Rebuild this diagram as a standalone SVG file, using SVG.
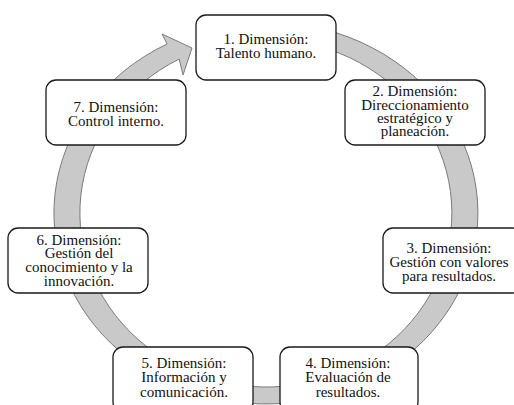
<svg xmlns="http://www.w3.org/2000/svg" width="514" height="405" viewBox="0 0 514 405">
  <style>
    .box { fill: #ffffff; stroke: #1a1a1a; stroke-width: 1.3; }
    .lbl { font-family: "Liberation Serif", "Times New Roman", serif; font-size: 15px; fill: #111111; text-anchor: middle; }
    .ring { fill: #c9c9c9; stroke: #7a7a7a; stroke-width: 1; stroke-linejoin: miter; }
  </style>
  <rect x="0" y="0" width="514" height="405" fill="#ffffff"/>
  <g id="connectors">
    <path class="ring" d="M 247.5 22.7 A 212 191 0 1 1 167.1 44 L 162 34 L 192 48 L 183 75 L 179.2 59.1 A 186 174 0 1 0 249.8 39.7 Z"/>
  </g>
  <g id="node1">
    <rect class="box" x="196" y="15" width="140" height="65" rx="10" ry="10"/>
    <text class="lbl" x="266" y="44">1. Dimensión:</text>
    <text class="lbl" x="266" y="58">Talento humano.</text>
  </g>
  <g id="node2">
    <rect class="box" x="345" y="80" width="140" height="65" rx="10" ry="10"/>
    <text class="lbl" x="415" y="96">2. Dimensión:</text>
    <text class="lbl" x="415" y="109.5">Direccionamiento</text>
    <text class="lbl" x="415" y="123">estratégico  y</text>
    <text class="lbl" x="415" y="136">planeación.</text>
  </g>
  <g id="node3">
    <rect class="box" x="383" y="228" width="140" height="65" rx="10" ry="10"/>
    <text class="lbl" x="449" y="253">3. Dimensión:</text>
    <text class="lbl" x="449" y="267">Gestión con  valores</text>
    <text class="lbl" x="449" y="280.5">para resultados.</text>
  </g>
  <g id="node4">
    <rect class="box" x="280" y="347" width="138" height="65" rx="10" ry="10"/>
    <text class="lbl" x="348" y="367.5">4. Dimensión:</text>
    <text class="lbl" x="348" y="382">Evaluación  de</text>
    <text class="lbl" x="348" y="396.5">resultados.</text>
  </g>
  <g id="node5">
    <rect class="box" x="113" y="347" width="140" height="65" rx="10" ry="10"/>
    <text class="lbl" x="184" y="367.5">5. Dimensión:</text>
    <text class="lbl" x="184" y="382">Información  y</text>
    <text class="lbl" x="184" y="396.5">comunicación.</text>
  </g>
  <g id="node6">
    <rect class="box" x="8" y="228" width="140" height="65" rx="10" ry="10"/>
    <text class="lbl" x="79" y="244.5">6. Dimensión:</text>
    <text class="lbl" x="79" y="258.3">Gestión del</text>
    <text class="lbl" x="79" y="272">conocimiento  y la</text>
    <text class="lbl" x="79" y="286">innovación.</text>
  </g>
  <g id="node7">
    <rect class="box" x="46" y="80" width="140" height="65" rx="10" ry="10"/>
    <text class="lbl" x="116" y="112">7. Dimensión:</text>
    <text class="lbl" x="116" y="125.5">Control interno.</text>
  </g>
</svg>
